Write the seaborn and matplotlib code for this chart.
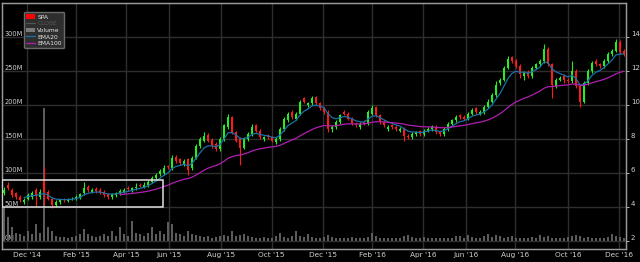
import numpy as np
import pandas as pd
import matplotlib
matplotlib.use("Agg")
import matplotlib.pyplot as plt
import matplotlib.patches as mpatches
from matplotlib.lines import Line2D
import seaborn as sns

# ---------------- data (each candle ~ 3 trading days) ----------------
opens = [4.8,5.3,5.0,4.8,4.6,4.3,4.5,4.6,5.0,4.6,
 5.6,4.9,4.5,4.1,4.3,4.5,4.35,4.45,4.5,4.6,
 4.8,5.2,4.9,5.05,5.0,4.9,4.75,4.6,4.7,4.8,
 4.9,5.1,5.0,5.1,5.3,5.2,5.3,5.5,5.7,5.95,
 6.0,6.4,6.3,6.95,6.8,6.5,6.8,6.3,6.9,7.6,
 7.9,8.25,7.95,7.7,7.4,8.0,8.7,9.3,8.4,8.0,
 7.5,8.0,8.3,8.8,8.5,8.0,8.2,8.1,7.8,8.0,
 8.6,9.1,9.6,9.2,9.5,10.4,10.0,10.1,10.5,10.1,
 9.8,9.6,8.6,8.7,9.0,9.6,9.5,9.2,8.9,8.7,
 9.0,8.9,9.5,9.9,9.4,9.0,8.6,8.8,8.7,8.5,
 8.6,8.2,8.1,8.3,8.45,8.3,8.5,8.6,8.7,8.4,
 8.3,8.6,8.9,9.1,9.4,9.3,9.2,9.5,9.8,9.5,
 9.6,9.9,10.2,10.6,11.3,11.5,12.2,12.8,12.6,12.3,
 11.7,11.95,11.7,12.2,12.4,12.6,13.3,12.4,11.1,11.5,
 11.7,11.5,11.4,12.0,11.1,10.2,11.3,12.0,12.6,12.4,
 12.3,12.6,13.0,13.2,13.7,13.2]
closes = [5.0,5.1,4.7,4.6,4.4,4.4,4.7,4.8,4.7,4.9,
 4.9,4.5,4.1,4.3,4.4,4.4,4.45,4.5,4.6,4.75,
 5.1,5.0,5.0,4.95,4.85,4.7,4.6,4.75,4.8,4.95,
 5.0,5.05,5.1,5.2,5.25,5.3,5.5,5.7,5.9,6.1,
 6.3,6.35,6.9,6.7,6.6,6.7,6.2,6.9,7.6,8.0,
 8.2,7.9,7.6,7.4,8.0,8.8,9.3,8.4,7.9,7.5,
 8.0,8.3,8.7,8.5,8.1,8.1,8.1,7.9,8.0,8.6,
 9.2,9.5,9.3,9.5,10.2,10.2,10.1,10.4,10.1,9.8,
 9.6,8.6,8.7,9.0,9.4,9.5,9.2,8.9,8.8,8.9,
 8.9,9.6,9.8,9.4,9.0,8.8,8.7,8.7,8.6,8.6,
 8.2,8.1,8.3,8.4,8.3,8.5,8.6,8.7,8.4,8.3,
 8.6,8.9,9.1,9.3,9.3,9.2,9.5,9.7,9.6,9.6,
 9.9,10.2,10.6,11.2,11.5,12.2,12.7,12.6,12.3,11.8,
 11.9,11.7,12.2,12.4,12.6,13.3,12.4,11.2,11.5,11.6,
 11.5,11.4,12.0,11.1,10.2,11.3,12.0,12.5,12.4,12.3,
 12.6,13.0,13.2,13.7,13.1,13.0]
highs = [5.2,5.5,5.1,4.9,4.7,4.55,4.8,4.95,5.1,5.05,
 6.35,5.0,4.6,4.4,4.5,4.55,4.55,4.6,4.7,4.85,
 5.45,5.3,5.1,5.15,5.1,5.0,4.85,4.85,4.9,5.05,
 5.1,5.25,5.2,5.4,5.4,5.45,5.6,5.8,6.0,6.25,
 6.45,6.5,7.05,7.05,6.9,6.85,6.9,7.0,7.7,8.1,
 8.4,8.35,8.05,7.8,8.1,8.9,9.5,9.35,8.5,8.1,
 8.1,8.4,8.9,8.9,8.6,8.2,8.3,8.2,8.1,8.7,
 9.3,9.6,9.7,9.6,10.3,10.5,10.2,10.55,10.55,10.2,
 9.9,9.7,8.8,9.1,9.5,9.7,9.6,9.3,9.0,9.0,
 9.1,9.7,10.0,9.95,9.5,9.1,8.8,8.9,8.8,8.7,
 8.7,8.3,8.4,8.5,8.55,8.6,8.7,8.85,8.8,8.5,
 8.7,9.0,9.2,9.4,9.5,9.4,9.6,9.8,9.9,9.7,
 10.0,10.35,10.7,11.4,11.6,12.3,12.9,12.9,12.7,12.4,
 12.0,12.05,12.3,12.5,12.7,13.6,13.4,12.5,11.6,11.7,
 11.8,11.6,12.6,12.1,11.2,11.4,12.1,12.6,12.7,12.5,
 12.7,13.1,13.3,13.9,13.8,13.3]
lows = [4.7,5.0,4.6,4.5,4.3,4.2,4.4,4.5,4.05,4.5,
 4.1,4.4,3.95,4.0,4.2,4.3,4.3,4.4,4.4,4.5,
 4.7,4.9,4.8,4.85,4.75,4.6,4.5,4.5,4.6,4.7,
 4.8,4.95,4.9,5.0,5.15,5.1,5.2,5.4,5.6,5.85,
 5.9,6.25,6.2,6.6,6.5,6.4,5.9,6.2,6.8,7.5,
 7.8,7.8,7.5,7.3,7.3,7.9,8.6,8.3,7.8,6.5,
 7.4,7.9,8.2,8.4,8.0,7.9,8.0,7.8,7.7,7.9,
 8.5,9.0,9.2,9.1,9.4,10.1,9.9,10.0,10.0,9.7,
 9.5,8.4,8.4,8.6,8.9,9.4,9.1,8.8,8.7,8.6,
 8.8,8.8,9.4,9.3,8.9,8.7,8.5,8.6,8.5,8.4,
 7.9,8.0,8.0,8.2,8.2,8.2,8.4,8.5,8.3,8.2,
 8.2,8.5,8.8,9.0,9.2,9.1,9.1,9.4,9.5,9.4,
 9.5,9.8,10.1,10.5,11.2,11.4,12.1,12.5,12.2,11.6,
 11.5,11.6,11.6,12.1,12.3,12.5,12.3,10.4,11.0,11.4,
 11.3,11.3,11.3,11.0,9.9,10.1,11.2,11.9,12.3,12.2,
 12.2,12.5,12.9,13.1,13.0,12.9]
volumes_m = [50,35,20,12,10,8,15,10,25,12,
 195,20,15,8,6,6,5,6,8,10,
 18,10,8,6,7,10,8,15,8,20,
 10,8,30,12,10,8,12,20,10,15,
 10,28,25,12,10,8,14,10,9,8,
 6,7,5,6,8,9,7,14,8,9,
 10,7,6,5,5,6,5,4,8,12,
 6,5,8,14,7,6,10,6,5,5,
 6,9,6,5,4,5,4,6,5,4,
 5,6,12,7,5,4,5,4,4,5,
 8,9,6,5,4,6,4,5,4,5,
 5,5,4,7,8,5,9,6,5,4,
 7,10,6,9,8,5,6,7,5,4,
 5,4,6,5,9,6,8,5,4,5,
 4,6,7,9,8,5,6,4,5,4,
 5,6,10,7,6,5]
month_labels = ["Dec '14", "Feb '15", "Apr '15", "Jun '15", "Aug '15", "Oct '15",
                "Dec '15", "Feb '16", "Apr '16", "Jun '16", "Aug '16", "Oct '16", "Dec '16"]
month_pos = [5.75, 18.0, 30.5, 41.25, 54.2, 66.9, 79.7, 92.0, 104.75, 115.4, 127.75, 141.0, 153.75]
price_ticks = [2, 4, 6, 8, 10, 12, 14]
vol_ticks = [0, 50, 100, 150, 200, 250, 300]
vol_labels = ["0M", "50M", "100M", "150M", "200M", "250M", "300M"]
highlight_box = {"x0": -0.5, "x1": 39.75, "y0": 4.0, "y1": 5.59}

df = pd.DataFrame({"open": opens, "close": closes, "high": highs, "low": lows,
                   "vol": volumes_m})
df["idx"] = np.arange(len(df))
df["ema20"] = df["close"].ewm(span=6, adjust=True, min_periods=6).mean()
df["ema100"] = df["close"].ewm(span=30, adjust=True, min_periods=30).mean()

# ---------------- style ----------------
sns.set_theme(style="dark")
plt.rcParams["font.family"] = ["DejaVu Sans"]
BG = "#000000"
GRID = "#2e2e2e"
TXT = "#d0d0d0"
UP = "#22ee22"
DOWN = "#ff1a1a"
VOLC = "#5c5c5c"
EMA20C = "#1c70a8"
EMA100C = "#b01fb0"

fig = plt.figure(figsize=(6.4, 2.62), dpi=100, facecolor=BG)
ax_vol = fig.add_axes([2/640, 13/262, 624/640, 246/262])
ax = ax_vol.twinx()

pmin, pmax = 1.53, 16.0
ax.set_ylim(pmin, pmax)
ax_vol.set_ylim((pmin - 2) * 25, (pmax - 2) * 25)
ax.set_xlim(-0.5, len(df) - 0.5)
ax_vol.set_xlim(-0.5, len(df) - 0.5)

ax_vol.set_facecolor(BG)
ax.set_facecolor("none")

# grid
for v in vol_ticks:
    ax_vol.axhline(v, color=GRID, lw=1.0, zorder=0)
for m in month_pos:
    ax_vol.axvline(m, color=GRID, lw=1.0, zorder=0)
ax_vol.grid(False)
ax.grid(False)

# volume
ax_vol.bar(df["idx"], df["vol"], width=0.35, color=VOLC, zorder=1, linewidth=0)

# candles
up = df["close"] >= df["open"]
colors = np.where(up, UP, DOWN)
ax.vlines(df["idx"], df["low"], df["high"], colors=colors, lw=0.8, zorder=3)
body = (df["close"] - df["open"]).abs().clip(lower=0.05)
ax.bar(df["idx"], body, bottom=np.minimum(df["open"], df["close"]), width=0.7,
       color=colors, linewidth=0, zorder=4)

# EMAs
sns.lineplot(data=df, x="idx", y="ema20", ax=ax, color=EMA20C, lw=0.9, zorder=5)
sns.lineplot(data=df, x="idx", y="ema100", ax=ax, color=EMA100C, lw=0.9, zorder=5)
ax.set_xlabel("")
ax.set_ylabel("")
ax_vol.set_xlabel("")
ax_vol.set_ylabel("")

# highlight rectangle
ax.add_patch(mpatches.Rectangle((highlight_box["x0"], highlight_box["y0"]),
                                highlight_box["x1"] - highlight_box["x0"],
                                highlight_box["y1"] - highlight_box["y0"],
                                fill=False, edgecolor="#e0e0e0", lw=1.1, zorder=6))

# axes ticks
ax.set_yticks(price_ticks)
ax.set_yticklabels([str(t) for t in price_ticks])
ax.tick_params(axis="y", colors=TXT, labelsize=5, length=2, width=0.6, pad=1.5,
               direction="out", right=True, labelright=True)
for lab in ax.get_yticklabels():
    lab.set_va("bottom")

ax_vol.set_yticks(vol_ticks)
ax_vol.set_yticklabels(vol_labels)
ax_vol.tick_params(axis="y", colors=TXT, labelsize=4.8, length=0, pad=-2,
                   left=True, labelleft=True)
for lab in ax_vol.get_yticklabels():
    lab.set_ha("left")
    lab.set_va("bottom")

ax_vol.set_xticks(month_pos)
ax_vol.set_xticklabels(month_labels)
ax_vol.tick_params(axis="x", colors=TXT, labelsize=5.3, length=0, pad=2)
ax.tick_params(axis="x", bottom=False, labelbottom=False)

for a in (ax, ax_vol):
    for s in a.spines.values():
        s.set_color("#9a9a9a")
        s.set_linewidth(0.9)

# legend
handles = [
    mpatches.Patch(facecolor="#ff0000", edgecolor="none", label="SPA"),
    Line2D([0], [0], color="#555555", lw=0.8, label="CLOSE"),
    mpatches.Patch(facecolor="#7a7a7a", edgecolor="none", label="Volume"),
    Line2D([0], [0], color=EMA20C, lw=0.9, label="EMA20"),
    Line2D([0], [0], color=EMA100C, lw=0.9, label="EMA100"),
]
leg = ax.legend(handles=handles, loc="upper left", bbox_to_anchor=(0.031, 0.975),
                fontsize=4.3, frameon=True, facecolor="#2e2e2e", edgecolor="#6a6a6a",
                framealpha=1.0, handlelength=1.4, handleheight=0.8, handletextpad=0.4,
                borderpad=0.35, labelspacing=0.22, fancybox=True)
for t in leg.get_texts():
    t.set_color("#e8e8e8")
leg.get_texts()[1].set_color("#5a5a5a")
leg.set_zorder(10)

fig.savefig("out.png", dpi=100, facecolor=BG)
